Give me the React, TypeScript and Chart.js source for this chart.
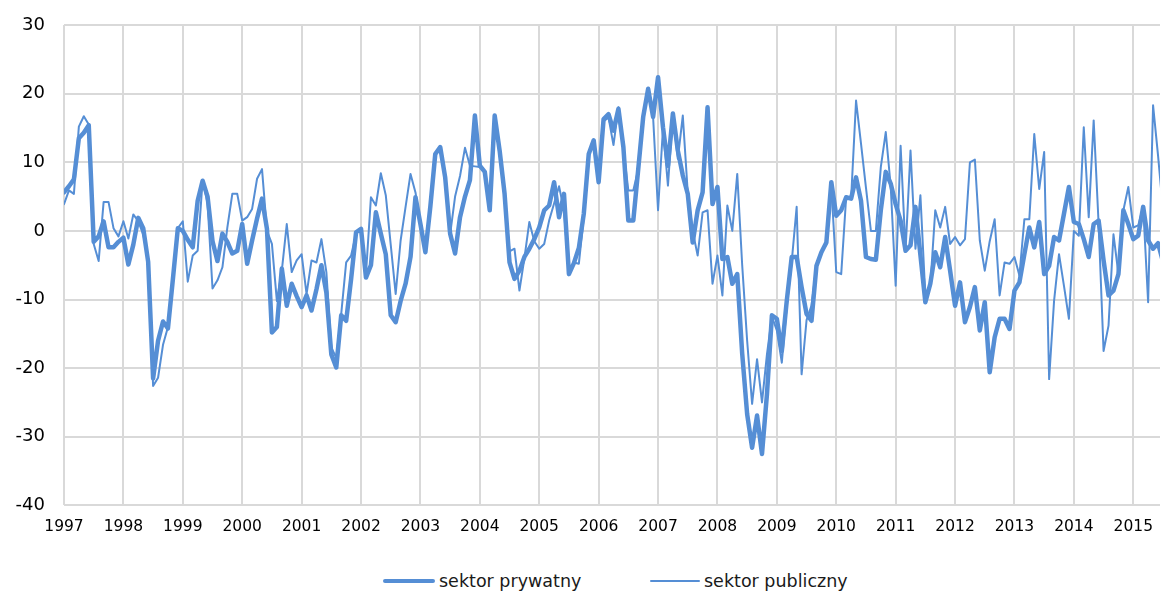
import React, { useEffect, useRef } from "react";
import { Chart, registerables } from "chart.js";

Chart.register(...registerables);

const START_YEAR = 1997;
const seriesNames = ["sektor prywatny", "sektor publiczny"];
const yTicks = [-40, -30, -20, -10, 0, 10, 20, 30];

// monthly values, Jan 1997 onward
const privateSector = [
  5.6, 6.5, 7.5, 13.5, 14.3, 15.4, -1.6, -0.8, 1.4, -2.4, -2.4, -1.6,
  -1.0, -4.9, -2.0, 1.9, 0.4, -4.5, -21.5, -16.0, -13.2, -14.2, -7.0, 0.4,
  0.0, -1.3, -2.4, 4.4, 7.3, 5.0, -1.5, -4.4, -0.4, -1.6, -3.3, -2.9,
  1.0, -4.8, -1.4, 1.8, 4.7, 0.3, -14.8, -14.0, -5.5, -10.9, -7.7, -9.5,
  -11.1, -9.4, -11.6, -8.5, -5.0, -9.0, -18.0, -19.9, -12.3, -13.1, -7.0, -0.2,
  0.3, -6.8, -5.0, 2.7, -0.4, -3.4, -12.3, -13.3, -10.2, -7.7, -3.8, 4.9,
  1.0, -3.1, 3.5, 11.2, 12.2, 7.8, -0.4, -3.3, 2.0, 5.0, 7.4, 16.8,
  9.5, 8.6, 3.0, 16.8, 11.7, 5.4, -4.6, -7.0, -5.8, -3.8, -2.6, -1.2,
  0.5, 3.0, 3.7, 7.1, 2.0, 5.4, -6.3, -4.7, -2.5, 2.5, 11.2, 13.2,
  7.1, 16.3, 17.0, 14.6, 17.8, 12.2, 1.5, 1.5, 9.0, 16.6, 20.7, 16.6,
  22.4, 15.1, 9.5, 17.1, 11.7, 8.1, 5.4, -1.7, 3.0, 5.6, 18.0, 3.9,
  6.4, -4.1, -3.8, -7.7, -6.3, -17.9, -26.7, -31.6, -26.9, -32.5, -23.8, -12.3,
  -12.8, -17.5, -10.2, -3.8, -3.8, -8.2, -12.1, -13.1, -5.1, -3.1, -1.7, 7.1,
  2.2, 3.0, 4.9, 4.7, 7.8, 4.4, -3.8, -4.1, -4.2, 3.0, 8.6, 6.9,
  3.9, 1.5, -2.9, -2.1, 3.5, -3.5, -10.4, -7.7, -3.1, -5.3, -0.9, -5.8,
  -10.9, -7.5, -13.3, -11.1, -8.2, -14.5, -10.4, -20.6, -15.5, -12.8, -12.8, -14.3,
  -8.7, -7.5, -3.4, 0.5, -2.4, 1.3, -6.3, -5.1, -0.9, -1.4, 2.5, 6.4,
  1.3, 1.0, -1.2, -3.8, 1.0, 1.5, -4.3, -9.4, -8.7, -6.3, 3.0, 1.0,
  -1.2, -0.7, 3.5, -1.4, -2.6, -1.8, -4.5,
];

const publicSector = [
  3.9, 5.9, 5.4, 15.2, 16.7, 15.5, -1.9, -4.4, 4.2, 4.2, 0.4, -0.8,
  1.4, -1.1, 2.4, 1.4, -0.5, -4.0, -22.6, -21.4, -16.6, -14.0, -7.5, 0.4,
  1.4, -7.4, -3.6, -2.9, 7.4, 4.0, -8.4, -7.2, -5.3, 0.5, 5.4, 5.4,
  1.5, 2.0, 3.2, 7.6, 9.0, 0.0, -1.9, -10.2, -5.8, 1.0, -6.0, -4.3,
  -3.4, -9.2, -4.3, -4.6, -1.2, -6.0, -17.0, -18.5, -12.1, -4.6, -3.6, -0.4,
  0.3, -6.3, 4.9, 3.7, 8.4, 5.2, -2.0, -9.2, -1.4, 3.5, 8.3, 5.6,
  1.0, -3.1, 3.5, 11.0, 12.0, 7.5, -0.5, 5.0, 8.0, 12.1, 9.5, 9.4,
  9.3, 8.6, 3.0, 16.8, 11.7, 5.4, -3.0, -2.6, -8.7, -4.0, 1.3, -1.5,
  -2.6, -1.9, 1.5, 4.0, 6.5, 3.0, -6.3, -4.6, -4.8, 2.0, 11.0, 13.0,
  9.0, 16.0, 16.5, 12.5, 18.0, 12.0, 5.9, 5.9, 9.0, 16.6, 20.7, 16.6,
  3.0, 15.0, 6.6, 17.0, 10.5, 16.8, 5.6, 0.0, -3.6, 2.7, 3.0, -7.7,
  -3.6, -9.4, 3.7, 0.0, 8.3, -5.0, -16.0, -25.2, -18.7, -25.0, -18.0, -12.5,
  -14.5, -19.2, -11.0, -4.5, 3.5, -20.9, -13.0, -10.9, -5.0, -3.0, -2.0, 6.5,
  -6.0, -6.3, 4.9, 4.7, 19.0, 12.7, 6.3, 0.0, 0.0, 9.3, 14.4, 6.5,
  -8.0, 12.4, -2.9, 11.7, -2.6, 5.2, -9.5, -8.0, 3.0, 0.5, 3.5, -1.9,
  -0.9, -2.1, -1.2, 10.0, 10.4, -1.4, -5.8, -1.5, 1.7, -9.4, -4.6, -4.8,
  -3.8, -6.5, 1.7, 1.7, 14.1, 6.1, 11.5, -21.6, -10.2, -3.4, -8.0, -12.8,
  0.0, -0.7, 15.1, 2.0, 16.1, 1.0, -17.5, -13.8, -0.5, -6.3, 3.0, 6.4,
  0.5, 0.8, 3.5, -10.4, 18.3, 11.0, 3.0,
];

const BLUE = "#558ED5";
const GRID = "#d9d9d9";
const FONT = "'DejaVu Sans', Verdana, sans-serif";

export default function App() {
  const ref = useRef<HTMLCanvasElement | null>(null);

  useEffect(() => {
    if (!ref.current) return;
    const toPoints = (arr: number[]) => arr.map((y, i) => ({ x: i, y }));
    const chart = new Chart(ref.current, {
      type: "line",
      data: {
        datasets: [
          {
            label: seriesNames[0],
            data: toPoints(privateSector),
            borderColor: BLUE,
            backgroundColor: BLUE,
            borderWidth: 4.5,
            pointRadius: 0,
            tension: 0,
            borderJoinStyle: "round",
            borderCapStyle: "round",
          },
          {
            label: seriesNames[1],
            data: toPoints(publicSector),
            borderColor: BLUE,
            backgroundColor: BLUE,
            borderWidth: 2,
            pointRadius: 0,
            tension: 0,
            borderJoinStyle: "round",
            borderCapStyle: "round",
          },
        ],
      },
      options: {
        animation: false,
        responsive: false,
        layout: { padding: { top: 25, right: 0, bottom: 0, left: 0 } },
        plugins: { legend: { display: false }, tooltip: { enabled: false } },
        scales: {
          x: {
            type: "linear",
            min: 0,
            max: 221.4,
            border: { display: false },
            grid: { color: GRID, lineWidth: 2, drawTicks: false },
            ticks: {
              stepSize: 12,
              includeBounds: false,
              autoSkip: false,
              maxRotation: 0,
              padding: 12,
              color: "#000",
              font: { family: FONT, size: 15.5 },
              callback: (v: any) => {
                const n = Number(v);
                return n % 12 === 0 ? String(START_YEAR + n / 12) : "";
              },
            },
          },
          y: {
            min: yTicks[0],
            max: yTicks[yTicks.length - 1],
            border: { display: false },
            grid: { color: GRID, lineWidth: 2, drawTicks: false },
            ticks: {
              stepSize: 10,
              padding: 19,
              color: "#000",
              font: { family: FONT, size: 18 },
            },
            afterFit: (scale: any) => {
              scale.width = 64;
              scale.paddingTop = 0;
              scale.paddingBottom = 0;
            },
          },
        },
      },
    });
    return () => chart.destroy();
  }, []);

  const legendItem = (left: number, lineW: number, thick: number, text: string) => (
    <div
      style={{
        position: "absolute",
        top: 570,
        left,
        height: 22,
        display: "flex",
        alignItems: "center",
        fontFamily: FONT,
        fontSize: 17.5,
        color: "#1a1a1a",
        whiteSpace: "nowrap",
      }}
    >
      <div style={{ width: lineW, height: thick, background: BLUE, borderRadius: thick / 2 }} />
      <span style={{ marginLeft: 4 }}>{text}</span>
    </div>
  );

  return (
    <div style={{ position: "fixed", left: 0, top: 0, width: 1165, height: 595, background: "#fff", overflow: "hidden" }}>
      <canvas ref={ref} width={1165} height={548} style={{ display: "block" }} />
      {legendItem(383, 52, 4.5, seriesNames[0])}
      {legendItem(650, 50, 2, seriesNames[1])}
    </div>
  );
}
